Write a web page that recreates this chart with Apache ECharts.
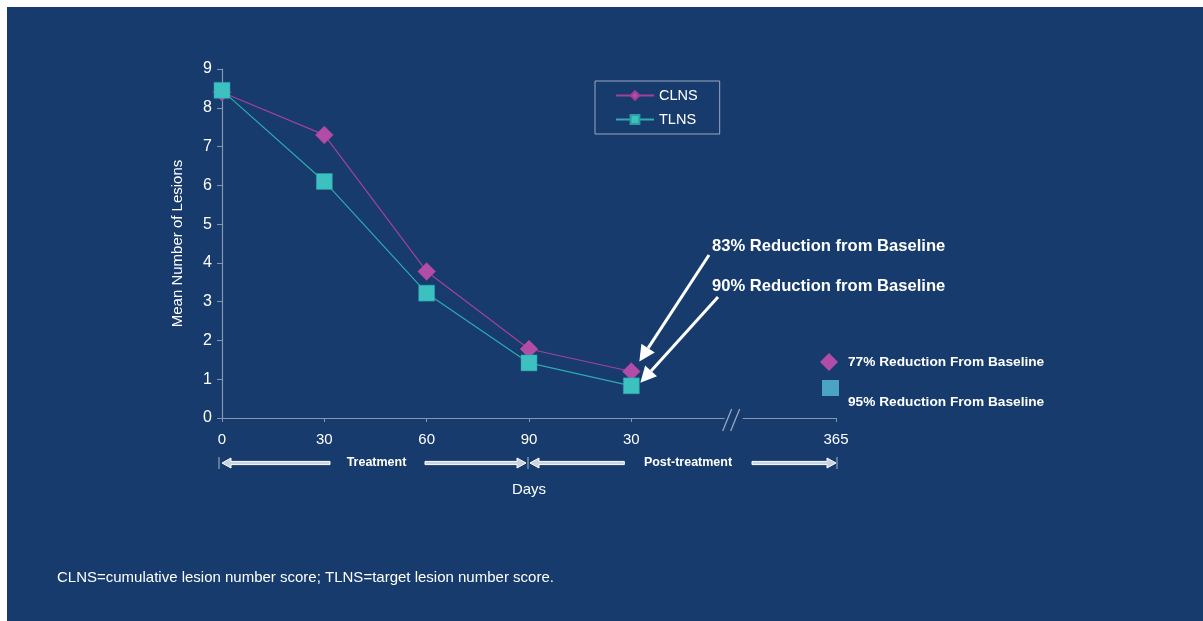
<!DOCTYPE html>
<html>
<head>
<meta charset="utf-8">
<script src="https://cdn.jsdelivr.net/npm/echarts@6/dist/echarts.min.js"></script>
<style>
  html, body { margin: 0; padding: 0; background: #ffffff; }
  #bg { position: absolute; left: 7px; top: 7px; width: 1196px; height: 614px; background: #163b6c; }
  #chart { position: absolute; left: 0; top: 0; width: 1203px; height: 621px; }
</style>
</head>
<body>
<div id="bg"></div>
<div id="chart"></div>
<script>
// ---- data ----
const categories = ['0', '30', '60', '90', '30', '', '365'];
const clnsValues = [8.4, 7.3, 3.78, 1.78, 1.2, null, null];
const tlnsValues = [8.45, 6.1, 3.22, 1.42, 0.83, null, null];
const yMin = 0, yMax = 9, yInterval = 1;
const annotations = ['83% Reduction from Baseline', '90% Reduction from Baseline'];
const keyTexts = ['77% Reduction From Baseline', '95% Reduction From Baseline'];
const phases = ['Treatment', 'Post-treatment'];
const footnote = 'CLNS=cumulative lesion number score; TLNS=target lesion number score.';

const FONT = '"Liberation Sans", Arial, sans-serif';
const BG = '#163b6c';
const AXIS = '#8796b0';
const MAG = '#b24da7';
const TEAL = '#3cc0c0';

const chart = echarts.init(document.getElementById('chart'), null, { renderer: 'canvas' });

chart.setOption({
  backgroundColor: 'transparent',
  animation: false,
  textStyle: { fontFamily: FONT },
  grid: { left: 222, right: 367, top: 69, bottom: 203, containLabel: false },
  legend: {
    left: 595, top: 81, orient: 'vertical',
    data: ['CLNS', 'TLNS'],
    borderColor: '#9aa8c2', borderWidth: 1,
    padding: [7, 22, 7, 20], itemGap: 9,
    itemWidth: 38, itemHeight: 11,
    textStyle: { color: '#ffffff', fontSize: 14.5, fontFamily: FONT }
  },
  xAxis: {
    type: 'category', data: categories, boundaryGap: false,
    name: 'Days', nameLocation: 'middle', nameGap: 64,
    nameTextStyle: { color: '#ffffff', fontSize: 15, fontFamily: FONT },
    axisLine: { lineStyle: { color: AXIS, width: 1.2 } },
    axisTick: { length: 4, lineStyle: { color: AXIS }, interval: function (i) { return i !== 5; } },
    axisLabel: { color: '#ffffff', fontSize: 15, margin: 14, interval: 0 },
    splitLine: { show: false }
  },
  yAxis: {
    type: 'value', min: yMin, max: yMax, interval: yInterval,
    name: 'Mean Number of Lesions', nameLocation: 'middle', nameGap: 37, nameRotate: 90,
    nameTextStyle: { color: '#ffffff', fontSize: 15, fontFamily: FONT },
    axisLine: { show: true, lineStyle: { color: AXIS, width: 1.2 } },
    axisTick: { show: true, length: 5, lineStyle: { color: AXIS } },
    axisLabel: { color: '#ffffff', fontSize: 16, margin: 10 },
    splitLine: { show: false }
  },
  series: [
    {
      name: 'CLNS', type: 'line', data: clnsValues,
      symbol: 'diamond', symbolSize: 18,
      lineStyle: { color: '#a3429b', width: 1.2 },
      itemStyle: { color: MAG, borderColor: '#9c3f95', borderWidth: 0.5 },
      z: 2
    },
    {
      name: 'TLNS', type: 'line', data: tlnsValues,
      symbol: 'rect', symbolSize: 16,
      lineStyle: { color: '#30a9b0', width: 1.2 },
      itemStyle: { color: TEAL, borderColor: '#2a9ea3', borderWidth: 0.5 },
      z: 3
    }
  ]
});

function px(i, v) { return chart.convertToPixel({ gridIndex: 0 }, [i, v]); }

function hollowArrow(x1, x2, y, headAt) {
  const s = 1.6, h = 5, L = 9;
  let pts;
  if (headAt === 'left') {
    pts = [[x1, y], [x1 + L, y - h], [x1 + L, y - s], [x2, y - s], [x2, y + s], [x1 + L, y + s], [x1 + L, y + h]];
  } else {
    pts = [[x2, y], [x2 - L, y - h], [x2 - L, y - s], [x1, y - s], [x1, y + s], [x2 - L, y + s], [x2 - L, y + h]];
  }
  return { type: 'polygon', shape: { points: pts }, style: { fill: '#c9d3e2', stroke: '#ffffff', lineWidth: 1 }, silent: true };
}

function pointerArrow(from, to) {
  const dx = to[0] - from[0], dy = to[1] - from[1];
  const len = Math.sqrt(dx * dx + dy * dy);
  const ux = dx / len, uy = dy / len;
  const hl = 16, hw = 8;
  const bx = to[0] - ux * hl, by = to[1] - uy * hl;
  const nx = -uy, ny = ux;
  return [
    { type: 'line', shape: { x1: from[0], y1: from[1], x2: bx, y2: by }, style: { stroke: '#ffffff', lineWidth: 3 }, silent: true },
    { type: 'polygon', shape: { points: [[to[0], to[1]], [bx + nx * hw, by + ny * hw], [bx - nx * hw, by - ny * hw]] }, style: { fill: '#ffffff' }, silent: true }
  ];
}

function txt(x, y, text, font, align) {
  return { type: 'text', x: x, y: y, style: { text: text, fill: '#ffffff', font: font, textAlign: align || 'left', textVerticalAlign: 'middle' }, silent: true };
}

const p0 = px(0, 0), p4 = px(4, 0), p5 = px(5, 0), p6 = px(6, 0), p3 = px(3, 0);
const pc = px(4, clnsValues[4]), pt = px(4, tlnsValues[4]);
const axisY = p0[1];
const arrowY = axisY + 45;

const g = [];
// axis break
g.push({ type: 'rect', shape: { x: p5[0] - 9, y: axisY - 2, width: 18, height: 4 }, style: { fill: BG }, silent: true, z: 100 });
g.push({ type: 'line', shape: { x1: p5[0] - 11, y1: axisY + 13, x2: p5[0] - 2, y2: axisY - 9 }, style: { stroke: '#9aa6bd', lineWidth: 1.3 }, silent: true, z: 101 });
g.push({ type: 'line', shape: { x1: p5[0] - 3, y1: axisY + 13, x2: p5[0] + 6, y2: axisY - 9 }, style: { stroke: '#9aa6bd', lineWidth: 1.3 }, silent: true, z: 101 });

// annotation texts
g.push(txt(712, 246, annotations[0], 'bold 16.6px ' + FONT));
g.push(txt(712, 286, annotations[1], 'bold 16.6px ' + FONT));
pointerArrow([709, 255], [pc[0] + 8, pc[1] - 10]).forEach(e => g.push(e));
pointerArrow([718, 297], [pt[0] + 9, pt[1] - 3]).forEach(e => g.push(e));

// key on the right
g.push({ type: 'polygon', shape: { points: [[829, 353], [838, 362], [829, 371], [820, 362]] }, style: { fill: MAG }, silent: true });
g.push({ type: 'rect', shape: { x: 822, y: 380, width: 17, height: 16 }, style: { fill: '#4aa4c2' }, silent: true });
g.push(txt(848, 362, keyTexts[0], 'bold 13.7px ' + FONT));
g.push(txt(848, 402, keyTexts[1], 'bold 13.7px ' + FONT));

// phase arrows
g.push(hollowArrow(p0[0], p0[0] + 108, arrowY, 'left'));
g.push(txt((p0[0] + p3[0]) / 2 + 1, arrowY, phases[0], 'bold 12.5px ' + FONT, 'center'));
g.push(hollowArrow(p3[0] - 104, p3[0] - 3, arrowY, 'right'));
g.push(hollowArrow(p3[0] + 1, p4[0] - 7, arrowY, 'left'));
g.push(txt(688, arrowY, phases[1], 'bold 12.5px ' + FONT, 'center'));
g.push(hollowArrow(752, p6[0], arrowY, 'right'));
[p0[0] - 3, p3[0] - 1, p6[0] + 1].forEach(x => {
  g.push({ type: 'line', shape: { x1: x, y1: arrowY - 6, x2: x, y2: arrowY + 6 }, style: { stroke: '#aab4c6', lineWidth: 1 }, silent: true });
});

// footnote
g.push(txt(57, 578, footnote, '15px ' + FONT));

chart.setOption({ graphic: g });
</script>
</body>
</html>
